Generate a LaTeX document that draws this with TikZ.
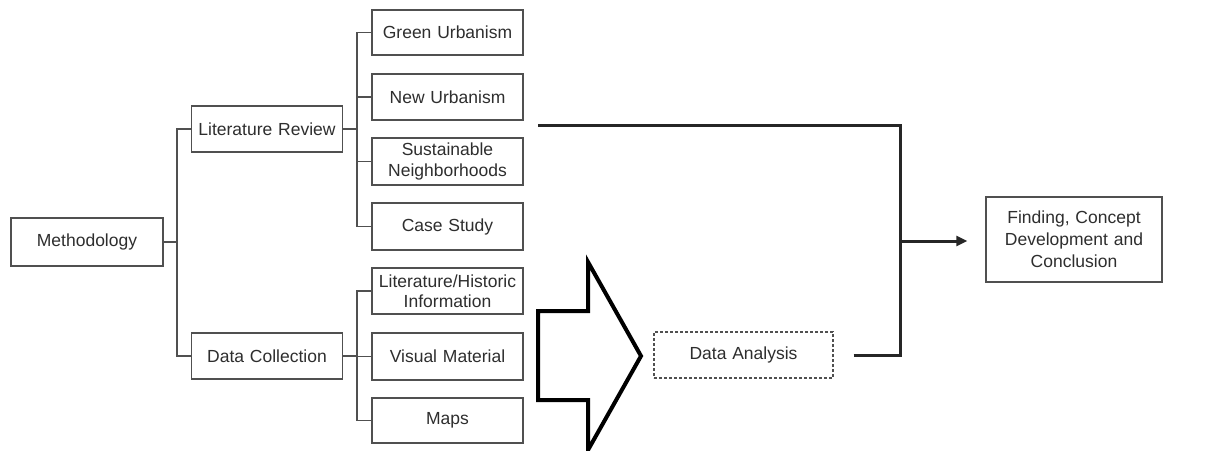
\documentclass[tikz,border=0pt]{standalone}
\usepackage{fontspec}
\setmainfont{Liberation Sans}
\usetikzlibrary{arrows.meta}
\definecolor{txt}{HTML}{2E2E2E}
\definecolor{edge}{HTML}{505050}
\tikzset{
  box/.style={draw=edge, line width=1.4pt, fill=white, text=txt, inner sep=0pt, align=center,
    font=\fontsize{17.5}{20.5}\selectfont, minimum width=151, text width=150},
  link/.style={draw=edge, line width=1.4pt},
  heavy/.style={draw=black!85, line width=3pt},
}
\begin{document}
\begin{tikzpicture}[x=1pt,y=-1pt]
\useasboundingbox (0,0) rectangle (1205,450);
% boxes
\node[box, minimum width=152, minimum height=48] (meth) at (87,242) {Methodology};
\node[box, minimum height=46] (litrev) at (267,129) {Literature Review};
\node[box, minimum height=46] (datacol) at (267,356) {Data Collection};
\node[box, minimum height=45] (green) at (447.5,32.5) {Green Urbanism};
\node[box, minimum height=46] (newurb) at (447.5,97) {New Urbanism};
\node[box, minimum height=47] (sust) at (447.5,161.5) {Sustainable\\Neighborhoods};
\node[box, minimum height=47] (case) at (447.5,226.5) {Case Study};
\node[box, minimum height=46] (lithist) at (447.5,291) {Literature/Historic\\Information};
\node[box, minimum height=47] (visual) at (447.5,356.5) {Visual Material};
\node[box, minimum height=45] (maps) at (447.5,420.5) {Maps};
\node[box, dashed, dash pattern=on 3pt off 2pt, minimum width=179, text width=175, minimum height=46] (analysis) at (743.5,355) {Data Analysis};
\node[box, minimum width=176, text width=172, minimum height=85, font=\fontsize{17.5}{22}\selectfont] (final) at (1074,239.5) {Finding, Concept\\Development and\\Conclusion};
% junctions
\coordinate (j1) at (177,242);
\coordinate (j2) at (357,129);
\coordinate (j3) at (357,356);
\coordinate (j4) at (900,241);
\coordinate (s) at (538,125);
% tree connectors
\draw[link] (meth.east) -- (j1);
\draw[link] (litrev.west) -| (j1) |- (datacol.west);
\draw[link] (litrev.east) -- (j2);
\draw[link] (green.west) -| (j2) |- (case.west);
\draw[link] (newurb.west) -- (newurb.west -| j2);
\draw[link] (sust.west) -- (sust.west -| j2);
\draw[link] (datacol.east) -- (j3);
\draw[link] (lithist.west) -| (j3) |- (maps.west);
\draw[link] (visual.west) -- (visual.west -| j3);
% big arrow
\draw[black, line width=4pt, line join=miter, fill=white]
  (538,311) -- (588,311) -- (588,262) -- (641,356) -- (588,450) -- (588,400) -- (538,400) -- cycle;
% heavy lines
\draw[heavy] (s) -| (j4);
\draw[heavy] ([xshift=20pt]analysis.east) -| (j4);
\draw[heavy, -{Triangle[length=11pt,width=10pt]}, shorten >=18pt] (j4) -- (final.west |- j4);
\end{tikzpicture}
\end{document}
